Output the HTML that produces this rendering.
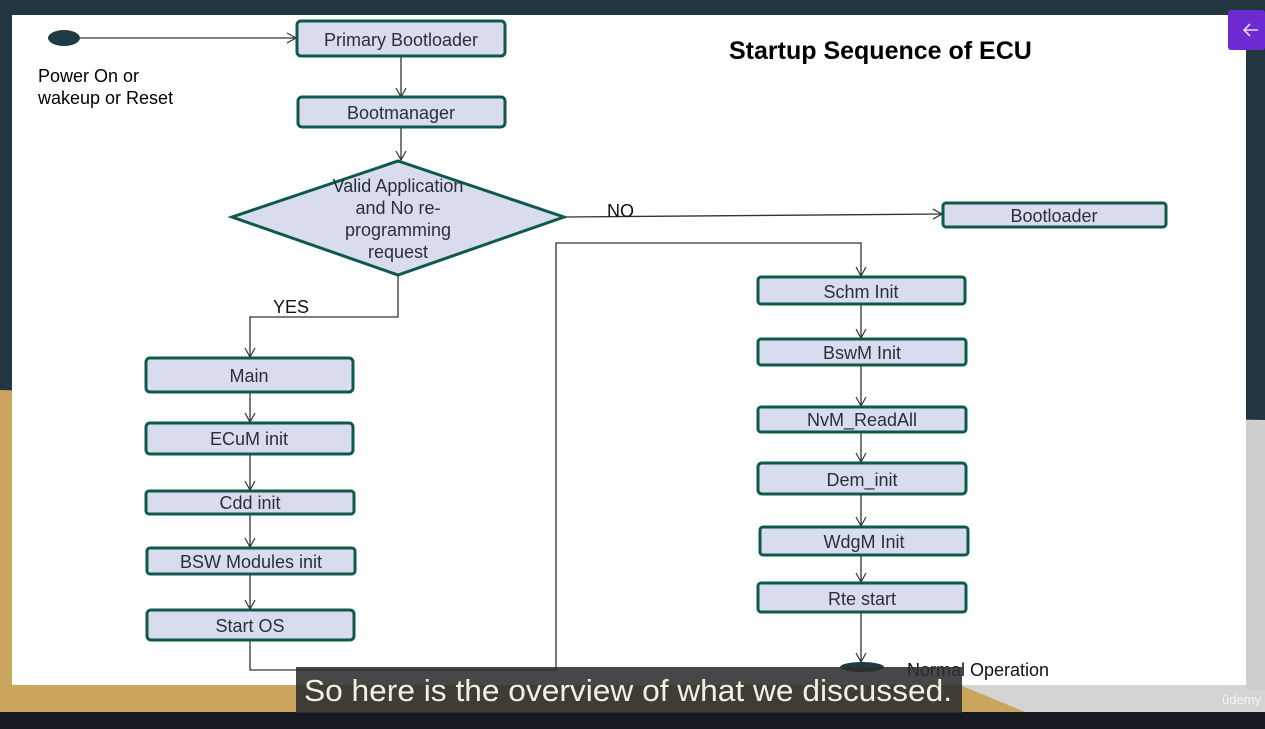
<!DOCTYPE html>
<html><head><meta charset="utf-8"><style>
html,body{margin:0;padding:0;width:1265px;height:729px;overflow:hidden;background:#213640;font-family:"Liberation Sans",sans-serif}
svg{position:absolute;left:0;top:0}
</style></head><body>
<svg width="1265" height="729" viewBox="0 0 1265 729" font-family="Liberation Sans, sans-serif">
<defs><marker id="a" markerWidth="12" markerHeight="12" refX="10" refY="6" orient="auto" markerUnits="userSpaceOnUse"><path d="M1,1 L10,6 L1,11" fill="none" stroke="#333" stroke-width="1.2"/></marker></defs>
<rect width="1265" height="729" fill="#213640"/>
<polygon points="0,390 1265,420 1265,712 0,712" fill="#c9a55e"/>
<polygon points="960,685 1265,685 1265,712 1025,712" fill="#d4d4d4"/>
<rect x="1246" y="420" width="19" height="270" fill="#cfcfcf"/>
<rect x="0" y="712" width="1265" height="17" fill="#16191f"/>
<rect x="12" y="15" width="1234" height="670" fill="#fff"/>
<rect x="1228" y="10" width="37" height="40" rx="3" fill="#6d2ad0"/>
<path d="M1244,30 h14 M1250,24 l-6,6 l6,6" stroke="#e8d8ff" stroke-width="1.6" fill="none"/>
<text x="729" y="59" font-size="25" font-weight="bold">Startup Sequence of ECU</text>
<ellipse cx="64" cy="38" rx="16" ry="8" fill="#1e3a44"/>
<text x="38" y="82" font-size="18">Power On or</text>
<text x="38" y="104" font-size="18">wakeup or Reset</text>
<g stroke="#333" stroke-width="1.3" fill="none">
<path d="M80,38 H296" marker-end="url(#a)"/>
<path d="M401,56 V97" marker-end="url(#a)"/>
<path d="M401,127 V160" marker-end="url(#a)"/>
<path d="M564,217 L942,214" marker-end="url(#a)"/>
<path d="M398,275 V317 H250 V357" marker-end="url(#a)"/>
<path d="M250,392 V422" marker-end="url(#a)"/>
<path d="M250,454 V490" marker-end="url(#a)"/>
<path d="M250,514 V547" marker-end="url(#a)"/>
<path d="M250,574 V609" marker-end="url(#a)"/>
<path d="M250,640 V670 H556 V243 H861 V276" marker-end="url(#a)"/>
<path d="M861,304 V338" marker-end="url(#a)"/>
<path d="M861,365 V406" marker-end="url(#a)"/>
<path d="M861,432 V462" marker-end="url(#a)"/>
<path d="M861,494 V526" marker-end="url(#a)"/>
<path d="M861,555 V582" marker-end="url(#a)"/>
<path d="M861,612 V662" marker-end="url(#a)"/>
</g>
<g fill="#d9dbef" stroke="#0d5a4a" stroke-width="3">
<rect x="297" y="21" width="208" height="35" rx="4"/>
<rect x="298" y="97" width="207" height="30" rx="4"/>
<polygon points="232,217 398,161 564,217 398,275"/>
<rect x="943" y="203" width="223" height="24" rx="3"/>
<rect x="146" y="358" width="207" height="34" rx="4"/>
<rect x="146" y="423" width="207" height="31" rx="4"/>
<rect x="146" y="491" width="208" height="23" rx="3"/>
<rect x="147" y="548" width="208" height="26" rx="3"/>
<rect x="147" y="610" width="207" height="30" rx="4"/>
<rect x="758" y="277" width="207" height="27" rx="3"/>
<rect x="758" y="339" width="208" height="26" rx="3"/>
<rect x="758" y="407" width="208" height="25" rx="3"/>
<rect x="758" y="463" width="208" height="31" rx="4"/>
<rect x="760" y="527" width="208" height="28" rx="3"/>
<rect x="758" y="583" width="208" height="29" rx="3"/>
</g>
<ellipse cx="862" cy="667" rx="22" ry="5" fill="#1e3a44"/>
<g font-size="18" fill="#2a2f38" text-anchor="middle">
<text x="401" y="46">Primary Bootloader</text>
<text x="401" y="119">Bootmanager</text>
<text x="398" y="192">Valid Application</text>
<text x="398" y="214">and No re-</text>
<text x="398" y="236">programming</text>
<text x="398" y="258">request</text>
<text x="1054" y="222">Bootloader</text>
<text x="249" y="382">Main</text>
<text x="249" y="445">ECuM init</text>
<text x="250" y="509">Cdd init</text>
<text x="251" y="568">BSW Modules init</text>
<text x="250" y="632">Start OS</text>
<text x="861" y="298">Schm Init</text>
<text x="862" y="359">BswM Init</text>
<text x="862" y="426">NvM_ReadAll</text>
<text x="862" y="486">Dem_init</text>
<text x="864" y="548">WdgM Init</text>
<text x="862" y="605">Rte start</text>
</g>
<text x="607" y="217" font-size="18" fill="#111">NO</text>
<text x="273" y="313" font-size="18" fill="#111">YES</text>
<text x="907" y="676" font-size="18" fill="#111">Normal Operation</text>
<rect x="296" y="667" width="666" height="46" fill="rgba(45,45,45,0.88)"/>
<text x="304" y="701" font-size="31" fill="#f2efe6" textLength="648" lengthAdjust="spacingAndGlyphs">So here is the overview of what we discussed.</text>
<text x="1222" y="704" font-size="13" fill="#f5f5f5">ûdemy</text>
</svg>
</body></html>
